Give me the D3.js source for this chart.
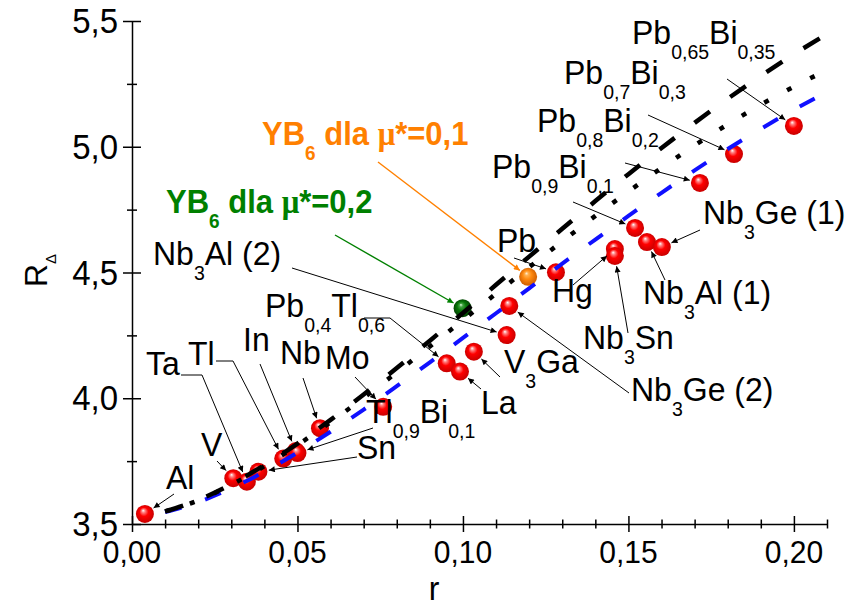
<!DOCTYPE html>
<html>
  <head>
    <meta charset="utf-8"/>
    <style>
body {
  margin: 0;
  background: #fff;
}
svg {
  display: block;
  font-family: "Liberation Sans", Arial, sans-serif;
}
    </style>
  </head>
  <body>
    <svg id="chart" width="849" height="609"></svg>
    <script src="https://cdnjs.cloudflare.com/ajax/libs/d3/7.8.5/d3.min.js"></script>
    <script>
// theory curves at r = 0.01 ... 0.21
const rGrid = [0.01, 0.02, 0.03, 0.04, 0.05, 0.06, 0.07, 0.08, 0.09, 0.10, 0.11,
               0.12, 0.13, 0.14, 0.15, 0.16, 0.17, 0.18, 0.19, 0.20, 0.21];
const blueCurve = [3.547, 3.587, 3.642, 3.708, 3.784, 3.867, 3.955, 4.048, 4.143, 4.240, 4.338,
                   4.437, 4.535, 4.631, 4.725, 4.817, 4.906, 4.991, 5.071, 5.147, 5.218];
const dashCurve = [3.550, 3.595, 3.658, 3.734, 3.820, 3.914, 4.015, 4.120, 4.229, 4.339, 4.451,
                   4.563, 4.674, 4.784, 4.891, 4.995, 5.095, 5.191, 5.282, 5.368, 5.448];
const dotCurve  = [3.550, 3.594, 3.656, 3.730, 3.814, 3.905, 4.002, 4.103, 4.206, 4.311, 4.416,
                   4.521, 4.624, 4.725, 4.822, 4.916, 5.005, 5.089, 5.167, 5.239, 5.305];

// measured superconductors
const materials = ["Al", "V", "Ta", "Sn", "Tl", "In", "Tl_{0,9}Bi_{0,1}", "Nb", "Mo",
                   "Pb_{0,4}Tl_{0,6}", "La", "V_{3}Ga", "Nb_{3}Al (2)", "Nb_{3}Ge (2)", "Pb", "Hg",
                   "Nb_{3}Sn", "Pb_{0,9}Bi_{0,1}", "Nb_{3}Al (1)", "Nb_{3}Ge (1)", "Pb_{0,8}Bi_{0,2}",
                   "Pb_{0,7}Bi_{0,3}", "Pb_{0,65}Bi_{0,35}"];
const rExp = [0.0039, 0.0306, 0.0347, 0.0382, 0.0457, 0.0495, 0.0500, 0.0568, 0.0759,
              0.0951, 0.0991, 0.1033, 0.1132, 0.1140, 0.1281, 0.1459,
              0.1459, 0.1520, 0.1556, 0.1601, 0.1716,
              0.1819, 0.2000];
const rDeltaExp = [3.540, 3.682, 3.668, 3.708, 3.760, 3.790, 3.782, 3.881, 3.966,
                   4.139, 4.106, 4.185, 4.251, 4.367, 4.501, 4.593,
                   4.566, 4.677, 4.621, 4.601, 4.856,
                   4.971, 5.083];

// YB6 estimates
const yb6Labels = ["YB_{6} dla μ*=0,2", "YB_{6} dla μ*=0,1"];
const yb6R = [0.0999, 0.1197];
const yb6RDelta = [4.358, 4.483];

const xTicks = [0, 0.05, 0.10, 0.15, 0.20];
const xMinorTicks = [0.01, 0.02, 0.03, 0.04, 0.06, 0.07, 0.08, 0.09, 0.11, 0.12, 0.13, 0.14,
                     0.16, 0.17, 0.18, 0.19, 0.21];
const yTicks = [3.5, 4.0, 4.5, 5.0, 5.5];
const yMinorTicks = [3.75, 4.25, 4.75, 5.25];

// where each label sits and where its leader starts (pixels)
const labelAt = {
  "Al": { x: 166, y: 489, from: [174, 494] },
  "V": { x: 201, y: 456, from: [217, 461] },
  "Ta": { x: 146, y: 375, from: [181, 375], elbow: [202, 375] },
  "Tl": { x: 188, y: 365, from: [216, 361], elbow: [233, 361] },
  "In": { x: 243, y: 351, from: [260, 364] },
  "Nb": { x: 280, y: 364, from: [303, 378] },
  "Mo": { x: 325, y: 369, from: [355, 377] },
  "Tl_{0,9}Bi_{0,1}": { x: 366, y: 423, from: [373, 428] },
  "Sn": { x: 357, y: 459, from: [357, 457] },
  "Pb_{0,4}Tl_{0,6}": { x: 265, y: 317, from: [364, 318], elbow: [390, 318] },
  "La": { x: 481, y: 414, from: [481, 389] },
  "V_{3}Ga": { x: 504, y: 373, from: [500, 377] },
  "Nb_{3}Al (2)": { x: 153, y: 265, from: [292, 268] },
  "Nb_{3}Ge (2)": { x: 631, y: 401, from: [629, 393] },
  "Pb": { x: 497, y: 252, from: [514, 258] },
  "Hg": { x: 552, y: 302, from: [573, 285] },
  "Nb_{3}Sn": { x: 583, y: 349, from: [628, 333] },
  "Nb_{3}Al (1)": { x: 643, y: 304, from: [665, 280] },
  "Nb_{3}Ge (1)": { x: 703, y: 224, from: [700, 230] },
  "Pb_{0,9}Bi_{0,1}": { x: 492, y: 178, from: [573, 202] },
  "Pb_{0,8}Bi_{0,2}": { x: 537, y: 132, from: [625, 163] },
  "Pb_{0,7}Bi_{0,3}": { x: 564, y: 84, from: [648, 115] },
  "Pb_{0,65}Bi_{0,35}": { x: 632, y: 44, from: [727, 79] },
  "YB_{6} dla μ*=0,2": { x: 166, y: 213, from: [335, 235] },
  "YB_{6} dla μ*=0,1": { x: 262, y: 145, from: [378, 162] }
};

const svg = d3.select("#chart");
const x = d3.scaleLinear().domain([0, 0.21]).range([132, 827]);
const y = d3.scaleLinear().domain([3.5, 5.5]).range([524, 21]);
const comma = s => s.replace(".", ",");
const FONT = 32, SUB = 19.5, DROP = 14, STRETCH = 1.06;

const defs = svg.append("defs");
function sphere(id, light, mid, base, dark) {
  const g = defs.append("radialGradient").attr("id", id)
    .attr("cx", "50%").attr("cy", "50%").attr("r", "55%")
    .attr("fx", "40%").attr("fy", "30%");
  g.append("stop").attr("offset", "0%").attr("stop-color", light);
  g.append("stop").attr("offset", "18%").attr("stop-color", mid);
  g.append("stop").attr("offset", "45%").attr("stop-color", base);
  g.append("stop").attr("offset", "100%").attr("stop-color", dark);
}
sphere("red", "#ffffff", "#ff8080", "#ff0000", "#c00000");
sphere("green", "#e0ffe0", "#40a040", "#087808", "#003800");
sphere("orange", "#fff4e0", "#ffb050", "#ff8a10", "#c85800");

function marker(id, color) {
  defs.append("marker").attr("id", id)
    .attr("viewBox", "0 0 10 10").attr("refX", 10).attr("refY", 5)
    .attr("markerWidth", 10).attr("markerHeight", 6)
    .attr("markerUnits", "userSpaceOnUse").attr("orient", "auto")
    .append("path").attr("d", "M0,0L10,5L0,10z").attr("fill", color);
}
marker("arrBlack", "#000");
marker("arrGreen", "#008000");
marker("arrOrange", "#ff8000");

// axes
function crossTicks(g, len, vertical) {
  g.selectAll(".tick line").attr(vertical ? "x1" : "y1", len)
    .attr("stroke-width", 1.5);
  g.select(".domain").attr("stroke-width", 1.5);
}
const gx = svg.append("g").attr("transform", "translate(0,524)")
  .call(d3.axisBottom(x).tickValues(xTicks).tickSize(8).tickSizeOuter(0).tickFormat(""));
crossTicks(gx, -8, false);
const gxm = svg.append("g").attr("transform", "translate(0,524)")
  .call(d3.axisBottom(x).tickValues(xMinorTicks).tickSize(4.5).tickFormat(""));
gxm.select(".domain").remove();
crossTicks(gxm, -4.5, false);

const gy = svg.append("g").attr("transform", "translate(132,0)")
  .call(d3.axisLeft(y).tickValues(yTicks).tickSize(9).tickSizeOuter(0).tickFormat(""));
crossTicks(gy, 9, true);
const gym = svg.append("g").attr("transform", "translate(132,0)")
  .call(d3.axisLeft(y).tickValues(yMinorTicks).tickSize(5).tickFormat(""));
gym.select(".domain").remove();
crossTicks(gym, 5, true);

xTicks.forEach(v => {
  svg.append("text")
    .attr("transform", `translate(${x(v)},563) scale(1,${STRETCH})`)
    .attr("text-anchor", "middle").attr("font-size", 30)
    .text(comma(d3.format(".2f")(v)));
});
yTicks.forEach(v => {
  svg.append("text")
    .attr("transform", `translate(118,${y(v) + 12}) scale(1,${STRETCH})`)
    .attr("text-anchor", "end").attr("font-size", 33)
    .text(comma(d3.format(".1f")(v)));
});

svg.append("text")
  .attr("transform", `translate(434,600) scale(1,${STRETCH})`)
  .attr("text-anchor", "middle").attr("font-size", 32).text("r");
const yt = svg.append("text")
  .attr("transform", "translate(47,287) rotate(-90)")
  .attr("font-size", 32);
yt.append("tspan").text("R");
yt.append("tspan").attr("font-size", 15).attr("dy", 9).text("Δ");

// points (drawn under the curves)
const pts = materials.map((m, i) => ({ name: m, r: rExp[i], v: rDeltaExp[i], fill: "url(#red)" }))
  .concat(yb6Labels.map((m, i) => ({ name: m, r: yb6R[i], v: yb6RDelta[i],
    fill: i === 0 ? "url(#green)" : "url(#orange)" })));
const RAD = 9;
svg.append("g").selectAll("circle")
  .data(pts)
  .join("circle")
    .attr("cx", d => x(d.r))
    .attr("cy", d => y(d.v))
    .attr("r", RAD)
    .attr("fill", d => d.fill);

// curves
const curve = vals => d3.line()
  .x((d, i) => x(rGrid[i]))
  .y(d => y(d))
  .curve(d3.curveMonotoneX)(vals);
svg.append("path").attr("d", curve(blueCurve))
  .attr("fill", "none").attr("stroke", "#1010ff").attr("stroke-width", 4)
  .attr("stroke-dasharray", "17,25");
svg.append("path").attr("d", curve(dashCurve))
  .attr("fill", "none").attr("stroke", "#000").attr("stroke-width", 4.5)
  .attr("stroke-dasharray", "19,25");
svg.append("path").attr("d", curve(dotCurve))
  .attr("fill", "none").attr("stroke", "#000").attr("stroke-width", 4.5)
  .attr("stroke-dasharray", "5,21");

// labels with subscripts
function richText(sel, str, size, subSize) {
  const parts = str.split(/_\{([^}]*)\}/);
  let down = false;
  parts.forEach((p, i) => {
    if (p === "") return;
    const isSub = i % 2 === 1;
    let dy = 0;
    if (isSub && !down) { dy = DROP; down = true; }
    else if (!isSub && down) { dy = -DROP; down = false; }
    p.split(/(μ)/).filter(s => s).forEach((s, k) => {
      const t = sel.append("tspan").attr("font-size", isSub ? subSize : size).text(s);
      if (k === 0 && dy) t.attr("dy", dy);
      if (s === "μ") t.attr("font-family", "Liberation Serif");
    });
  });
}

const leader = d3.line();
pts.forEach(d => {
  const L = labelAt[d.name];
  const yb = d.name.startsWith("YB");
  const color = !yb ? "#000" : (d.name.endsWith("0,2") ? "#008000" : "#ff8000");
  const t = svg.append("text")
    .attr("transform", `translate(${L.x},${L.y}) scale(1,${STRETCH})`)
    .attr("fill", color)
    .attr("font-weight", yb ? "bold" : "normal");
  richText(t, d.name, yb ? 31 : FONT, yb ? 19 : SUB);

  const cx = x(d.r), cy = y(d.v);
  const start = L.elbow || L.from;
  const dx = cx - start[0], dy = cy - start[1];
  const len = Math.hypot(dx, dy);
  const end = [cx - dx / len * (RAD + 1.5), cy - dy / len * (RAD + 1.5)];
  const path = L.elbow ? [L.from, L.elbow, end] : [L.from, end];
  svg.append("path").attr("d", leader(path))
    .attr("fill", "none").attr("stroke", color)
    .attr("stroke-width", yb ? 1.4 : 1)
    .attr("marker-end", yb ? (color === "#008000" ? "url(#arrGreen)" : "url(#arrOrange)") : "url(#arrBlack)");
});
    </script>
  </body>
</html>
